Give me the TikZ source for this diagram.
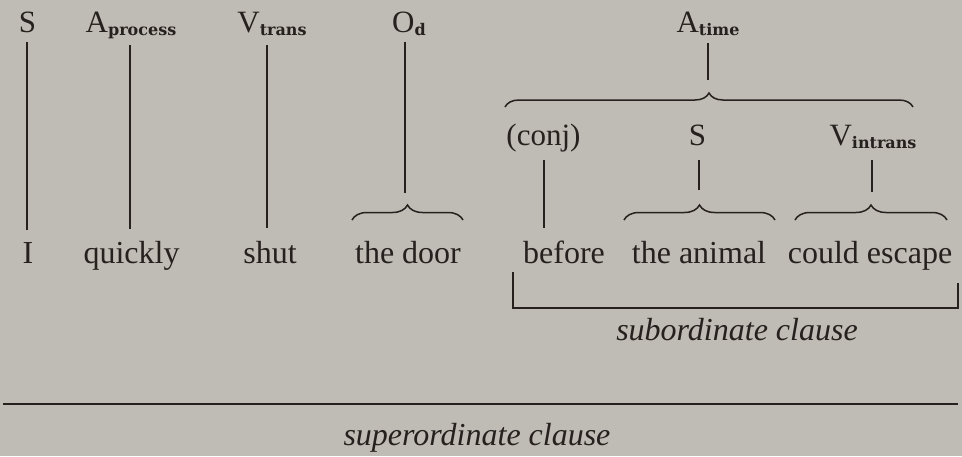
\documentclass[tikz,border=0pt]{standalone}
\usepackage{fontspec}
\setmainfont{Liberation Serif}
\newfontfamily\subfnt{DejaVu Serif}
\usetikzlibrary{decorations.pathreplacing}
\definecolor{bg}{RGB}{190,188,180}
\definecolor{ink}{RGB}{38,32,30}
\newcommand{\lsub}[1]{\raisebox{-3pt}{\subfnt\bfseries\fontsize{16}{16}\selectfont #1}}
\begin{document}
\begin{tikzpicture}[x=1pt,y=-1pt,line width=1.5pt,
  lab/.style={anchor=base, inner sep=0pt, text=ink, font=\fontsize{31}{31}\selectfont},
  word/.style={anchor=base, inner sep=0pt, text=ink, font=\fontsize{32}{32}\selectfont},
  captext/.style={anchor=base, inner sep=0pt, text=ink, font=\fontsize{32}{32}\selectfont\itshape},
  conn/.style={draw=ink},
  brc/.style={draw=ink, decorate, decoration={brace, amplitude=15pt}}]
\useasboundingbox (0,0) rectangle (962,456);
\fill[bg] (0,0) rectangle (962,456);

% top labels
\node[lab] (lS)  at (27.5,32) {S};
\node[lab] (lA)  at (131,32) {A\lsub{process}};
\node[lab] (lV)  at (272,32) {V\lsub{trans}};
\node[lab] (lO)  at (409,32) {O\lsub{d}};
\node[lab] (lAt) at (708,32) {A\lsub{time}};

% second-row labels
\node[lab] (lC)  at (543.5,145) {(conj)};
\node[lab] (lS2) at (697.5,145) {S};
\node[lab] (lVi) at (873,145) {V\lsub{intrans}};

% words
\node[word] (wI)  at (28,263) {I};
\node[word] (wq)  at (131.5,263) {quickly};
\node[word] (ws)  at (270,263) {shut};
\node[word] (wd)  at (408,263) {the door};
\node[word] (wb)  at (564,263) {before};
\node[word] (wa)  at (699,263) {the animal};
\node[word] (wc)  at (870,263) {could escape};

% captions
\node[captext] (csub) at (737,340) {subordinate clause};
\node[captext] (csup) at (477,445) {superordinate clause};

% braces
\coordinate (bOl) at (352,220); \coordinate (bOr) at (463,220);
\draw[brc] (bOl) -- (bOr);
\coordinate (bTl) at (505,107); \coordinate (bTr) at (913,107);
\draw[brc, decoration={amplitude=14pt}] (bTl) -- (bTr);
\coordinate (bSl) at (624,220); \coordinate (bSr) at (775,220);
\draw[brc] (bSl) -- (bSr);
\coordinate (bVl) at (795,220); \coordinate (bVr) at (947,220);
\draw[brc] (bVl) -- (bVr);

% vertical connectors
\draw[conn] (27,42) coordinate (t1) -- (27,230) coordinate (e1);
\draw[conn] (130,45) coordinate (t2) -- (130,229) coordinate (e2);
\draw[conn] (267,45) coordinate (t3) -- (267,228) coordinate (e3);
\draw[conn] (405,42) coordinate (t4) -- (405,193) coordinate (e4);
\draw[conn] (708,43) coordinate (t5) -- (708,80) coordinate (e5);
\draw[conn] (544,160) coordinate (t6) -- (544,228) coordinate (e6);
\draw[conn] (699,160) coordinate (t7) -- (699,190) coordinate (e7);
\draw[conn] (872,160) coordinate (t8) -- (872,192) coordinate (e8);

% subordinate bracket
\coordinate (sbl) at (513,272);
\coordinate (sbr) at (958,283);
\draw[conn] (sbl) -- (sbl |- 0,308) -- (sbr |- 0,308) -- (sbr);

% superordinate line
\coordinate (supl) at (3,404); \coordinate (supr) at (958,404);
\draw[conn] (supl) -- (supr);
\end{tikzpicture}
\end{document}
